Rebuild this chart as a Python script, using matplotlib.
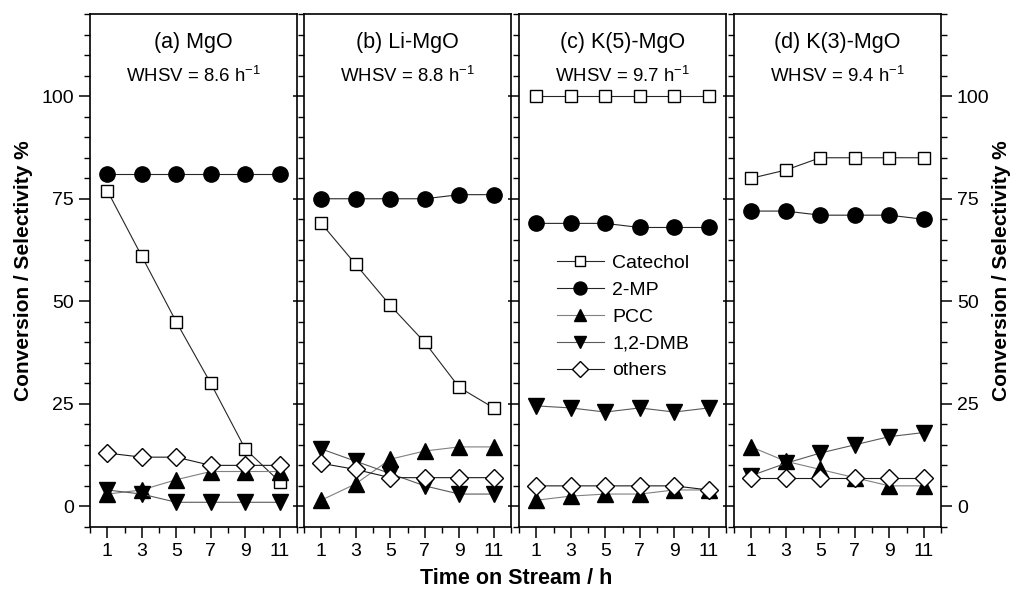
import matplotlib
matplotlib.use("Agg")
import matplotlib.pyplot as plt
from matplotlib.ticker import MultipleLocator

plt.rcParams['font.family'] = ['Liberation Sans', 'DejaVu Sans']
plt.rcParams['mathtext.fontset'] = 'custom'
plt.rcParams['mathtext.rm'] = 'Liberation Sans'
plt.rcParams['mathtext.it'] = 'Liberation Sans:italic'
plt.rcParams['mathtext.bf'] = 'Liberation Sans:bold'

# time on stream (h)
time_h = [1, 3, 5, 7, 9, 11]

panel_titles = ['(a) MgO', '(b) Li-MgO', '(c) K(5)-MgO', '(d) K(3)-MgO']
whsv = ['8.6', '8.8', '9.7', '9.4']

series_names = ['Catechol', '2-MP', 'PCC', '1,2-DMB', 'others']

catechol = [[77, 61, 45, 30, 14, 6],
            [69, 59, 49, 40, 29, 24],
            [100, 100, 100, 100, 100, 100],
            [80, 82, 85, 85, 85, 85]]
mp2 = [[81, 81, 81, 81, 81, 81],
       [75, 75, 75, 75, 76, 76],
       [69, 69, 69, 68, 68, 68],
       [72, 72, 71, 71, 71, 70]]
pcc = [[3, 4, 6.5, 8.5, 8.5, 8.5],
       [1.5, 5.5, 11.5, 13.5, 14.5, 14.5],
       [1.5, 2.5, 3, 3, 4, 4],
       [14.5, 11, 9, 7, 5, 5]]
dmb = [[4, 3, 1, 1, 1, 1],
       [14, 11, 8, 5, 3, 3],
       [24.5, 24, 23, 24, 23, 24],
       [7.5, 10.5, 13, 15, 17, 18]]
others = [[13, 12, 12, 10, 10, 10],
          [10.5, 9, 7, 7, 7, 7],
          [5, 5, 5, 5, 5, 4],
          [7, 7, 7, 7, 7, 7]]

# marker, face colour, size, line colour
styles = [('s', 'white', 9, '0.15'),
          ('o', 'black', 11, '0.15'),
          ('^', 'black', 11, '0.5'),
          ('v', 'black', 11, '0.35'),
          ('D', 'white', 9.5, '0.1')]

fig = plt.figure(figsize=(10.19, 5.92), dpi=100)

lefts = [90, 304, 519, 734]
axes = []
for i in range(4):
    ax = fig.add_axes([lefts[i] / 1019, 0.110, 207 / 1019, 0.866])
    axes.append(ax)
    data = [catechol[i], mp2[i], pcc[i], dmb[i], others[i]]
    for name, vals, (mk, fc, ms, lc) in zip(series_names, data, styles):
        ax.plot(time_h, vals, color=lc, lw=0.8, marker=mk, ms=ms,
                mfc=fc, mec='black', mew=1.0, label=name)
    ax.set_xlim(0, 12)
    ax.set_ylim(-5, 120)
    ax.xaxis.set_major_locator(MultipleLocator(2, offset=1))
    ax.xaxis.set_minor_locator(MultipleLocator(1))
    ax.yaxis.set_minor_locator(MultipleLocator(5))
    ax.set_yticks([0, 25, 50, 75, 100])
    ax.tick_params(which='major', direction='out', length=8, width=1.1, labelsize=14)
    ax.tick_params(which='minor', direction='out', length=4, width=1.0)
    ax.tick_params(axis='y', right=False, left=True, labelleft=(i == 0))
    for sp in ax.spines.values():
        sp.set_linewidth(1.2)
    ax.text(0.5, 0.934, panel_titles[i], transform=ax.transAxes,
            ha='center', va='baseline', fontsize=15.5)
    ax.text(0.5, 0.867, 'WHSV = ' + whsv[i] + r' h$^{-1}$', transform=ax.transAxes,
            ha='center', va='baseline', fontsize=13.4)

axes[0].set_ylabel('Conversion / Selectivity %', fontsize=15, fontweight='bold', labelpad=6)
axes[3].tick_params(axis='y', which='both', right=True, labelright=True)
axes[3].yaxis.set_label_position('right')
axes[3].set_ylabel('Conversion / Selectivity %', fontsize=15, fontweight='bold', labelpad=2)

fig.text(516 / 1019, 1 - 578 / 592, 'Time on Stream / h', ha='center', va='center',
         fontsize=15.5, fontweight='bold')

handles, labels = axes[2].get_legend_handles_labels()
axes[2].legend(handles, labels, loc='upper left', bbox_to_anchor=(557 / 1019, 1 - 254 / 592),
               bbox_transform=fig.transFigure, frameon=False, fontsize=14,
               borderpad=0, borderaxespad=0, handlelength=2.4, handletextpad=0.45,
               labelspacing=0.48, markerscale=0.85)

fig.savefig('out.png', dpi=100)
